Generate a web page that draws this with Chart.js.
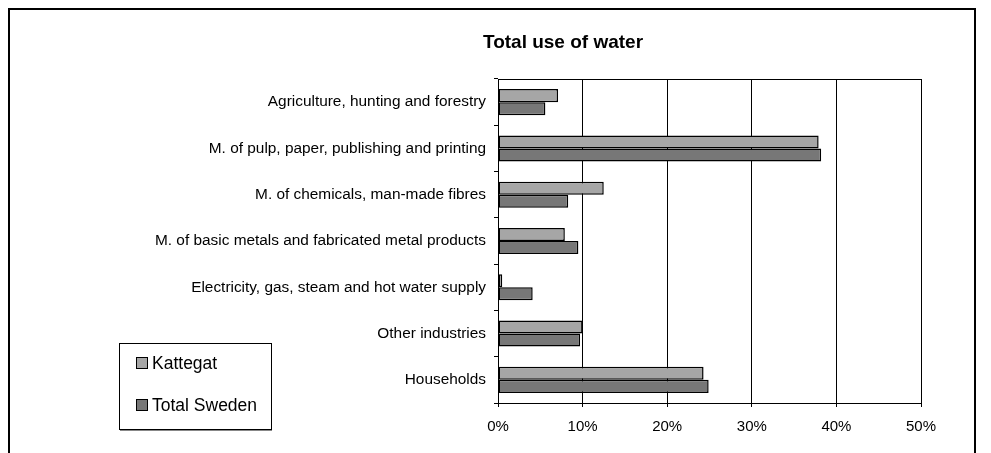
<!DOCTYPE html>
<html>
<head>
<meta charset="utf-8">
<script src="https://cdn.jsdelivr.net/npm/chart.js@4"></script>
<style>
  html, body { margin: 0; padding: 0; background: #fff; }
  #wrap { width: 991px; height: 453px; }
</style>
</head>
<body>
<div id="wrap"><canvas id="waterChart" width="991" height="453"></canvas></div>
<script>
// Chart data
var categories = [
    'Agriculture, hunting and forestry',
    'M. of pulp, paper, publishing and printing',
    'M. of chemicals, man-made fibres',
    'M. of basic metals and fabricated metal products',
    'Electricity, gas, steam and hot water supply',
    'Other industries',
    'Households'
];
var kattegat = [7.1, 37.9, 12.5, 7.9, 0.5, 10.0, 24.3];
var totalSweden = [5.6, 38.2, 8.3, 9.5, 4.1, 9.7, 24.9];
var xTicks = [0, 10, 20, 30, 40, 50];

var FONT = "'Liberation Sans', Arial, sans-serif";

// Frame, title, plot border and the boxed legend
var decorPlugin = {
    id: 'decor',
    beforeDraw: function(chart) {
        var ctx = chart.ctx;
        ctx.save();
        ctx.fillStyle = '#fff';
        ctx.fillRect(0, 0, chart.width, chart.height);
        ctx.strokeStyle = '#000';
        ctx.lineWidth = 2;
        ctx.beginPath();
        ctx.moveTo(9, 460);
        ctx.lineTo(9, 9);
        ctx.lineTo(975, 9);
        ctx.lineTo(975, 460);
        ctx.stroke();
        ctx.restore();
    },
    afterDraw: function(chart) {
        var ctx = chart.ctx;
        var a = chart.chartArea;
        ctx.save();
        // plot area border
        ctx.strokeStyle = '#000';
        ctx.lineWidth = 1;
        ctx.strokeRect(Math.round(a.left) + 0.5, Math.round(a.top) + 0.5,
            Math.round(a.right - a.left), Math.round(a.bottom - a.top));
        // title
        ctx.fillStyle = '#000';
        ctx.font = 'bold 19px ' + FONT;
        ctx.textAlign = 'center';
        ctx.textBaseline = 'middle';
        ctx.fillText('Total use of water', 563, 43);
        // legend box
        ctx.fillStyle = '#fff';
        ctx.fillRect(119.5, 343.5, 152, 86);
        ctx.strokeStyle = '#000';
        ctx.strokeRect(119.5, 343.5, 152, 86);
        ctx.strokeStyle = '#888';
        ctx.beginPath();
        ctx.moveTo(120, 430.5);
        ctx.lineTo(272, 430.5);
        ctx.stroke();
        var rows = [363, 405];
        chart.data.datasets.forEach(function(ds, i) {
            ctx.fillStyle = ds.backgroundColor;
            ctx.fillRect(136.5, rows[i] - 5.5, 11, 11);
            ctx.strokeStyle = '#000';
            ctx.strokeRect(136.5, rows[i] - 5.5, 11, 11);
            ctx.fillStyle = '#000';
            ctx.font = '17.5px ' + FONT;
            ctx.textAlign = 'left';
            ctx.fillText(ds.label, 152, rows[i] + 1);
        });
        ctx.restore();
    }
};

var ctx = document.getElementById('waterChart').getContext('2d');
var waterChart = new Chart(ctx, {
    type: 'bar',
    data: {
        labels: categories,
        datasets: [{
            label: 'Kattegat',
            data: kattegat,
            backgroundColor: '#a6a6a6',
            borderColor: '#000',
            borderWidth: 1.5,
            borderSkipped: false
        }, {
            label: 'Total Sweden',
            data: totalSweden,
            backgroundColor: '#777777',
            borderColor: '#000',
            borderWidth: 1.5,
            borderSkipped: false
        }]
    },
    options: {
        indexAxis: 'y',
        responsive: false,
        animation: false,
        categoryPercentage: 0.563,
        barPercentage: 1.0,
        layout: { padding: { left: 0, right: 70, top: 79, bottom: 0 } },
        plugins: {
            legend: { display: false },
            title: { display: false },
            tooltip: { enabled: false }
        },
        scales: {
            x: {
                min: 0,
                max: 50,
                afterBuildTicks: function(scale) {
                    scale.ticks = xTicks.map(function(v) { return { value: v }; });
                },
                afterFit: function(scale) { scale.height = 50; },
                ticks: {
                    color: '#000',
                    font: { family: FONT, size: 15 },
                    padding: 11,
                    maxRotation: 0,
                    callback: function(v) { return v + '%'; }
                },
                grid: { color: '#000', lineWidth: 1, tickLength: 4, drawTicks: true },
                border: { display: true, color: '#000', width: 1 }
            },
            y: {
                afterFit: function(scale) { scale.width = 498; },
                ticks: {
                    color: '#000',
                    font: { family: FONT, size: 15.4 },
                    padding: 8
                },
                grid: { offset: true, drawOnChartArea: false, color: '#000', tickLength: 4 },
                border: { display: true, color: '#000', width: 1 }
            }
        }
    },
    plugins: [decorPlugin]
});
</script>
</body>
</html>
